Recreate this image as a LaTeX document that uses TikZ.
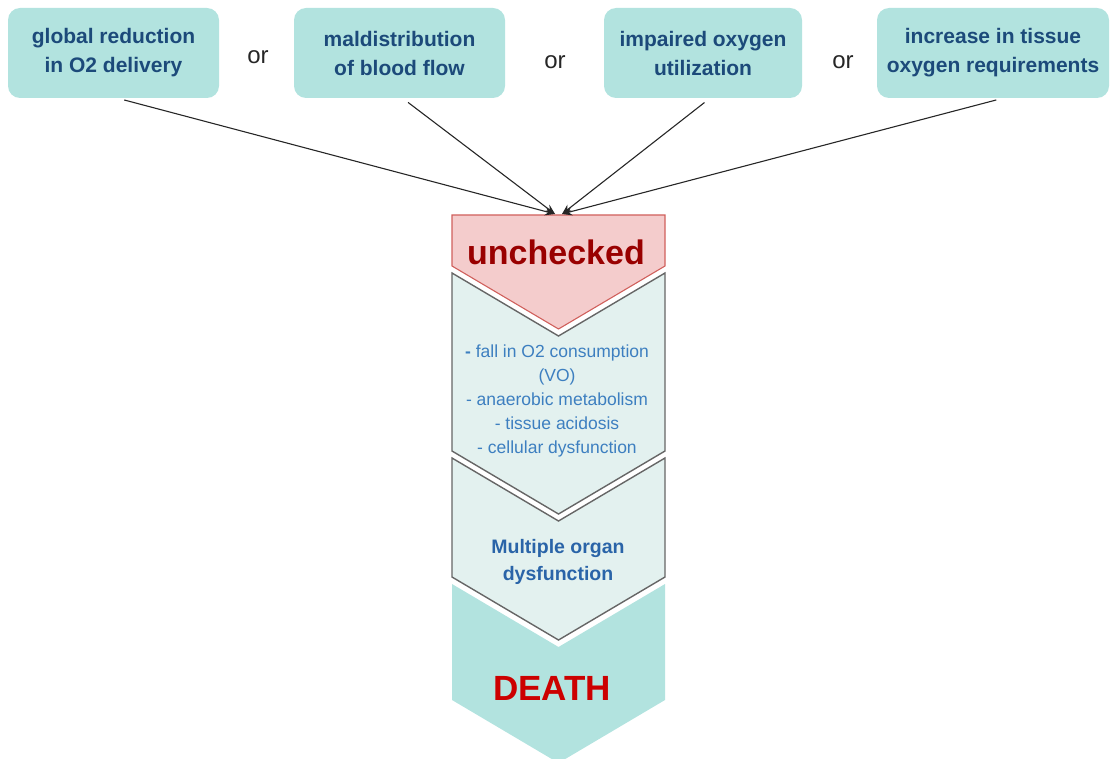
\documentclass[tikz,border=0pt]{standalone}
\usepackage{fontspec}
\setmainfont{Liberation Sans}
\usetikzlibrary{arrows.meta}

\definecolor{boxteal}{HTML}{B2E3DF}
\definecolor{palefill}{HTML}{E3F1EF}
\definecolor{pinkfill}{HTML}{F4CCCC}
\definecolor{redline}{HTML}{D0605C}
\definecolor{darkred}{HTML}{990000}
\definecolor{deathred}{HTML}{CC0000}
\definecolor{navytext}{HTML}{1C4A7A}
\definecolor{bluetext}{HTML}{3D7FC0}
\definecolor{midblue}{HTML}{2A64A8}

\tikzset{
  topbox/.style={rectangle, rounded corners=12pt, fill=boxteal, draw=none,
    minimum height=90pt, align=center, text=navytext,
    font=\fontsize{21}{29}\selectfont\bfseries},
  ortext/.style={font=\fontsize{24}{28}\selectfont, text=black!85},
  link/.style={-{Stealth[length=10pt,width=8pt]}, line width=1.1pt, black!85, shorten <=7pt},
  palechev/.style={fill=palefill, draw=black!60, line width=1.4pt, line join=miter},
}

\begin{document}
\begin{tikzpicture}[x=1pt, y=-1pt]
  \useasboundingbox (0,0) rectangle (1110,759);

  % causes
  \node[topbox, minimum width=211pt] (glob) at (113.5,53) {global reduction\\in O2 delivery};
  \node[topbox, minimum width=211pt] (mald) at (399.5,53) {maldistribution\\of blood flow};
  \node[topbox, minimum width=198pt] (impa) at (703,53) {impaired oxygen\\utilization};
  \node[topbox, minimum width=232pt] (incr) at (993,53) {increase in tissue\\oxygen requirements};

  \node[ortext] (or1) at (258,57) {or};
  \node[ortext] (or2) at (555,62) {or};
  \node[ortext] (or3) at (843,62) {or};

  % chevrons
  \draw[fill=pinkfill, draw=redline, line width=1.1pt]
    (452,215) -- (665,215) -- (665,266) -- (558.5,329) -- (452,266) -- cycle;
  \draw[palechev]
    (452,273) -- (558.5,336) -- (665,273) -- (665,451) -- (558.5,514) -- (452,451) -- cycle;
  \draw[palechev]
    (452,458) -- (558.5,521) -- (665,458) -- (665,577) -- (558.5,640) -- (452,577) -- cycle;
  \fill[boxteal]
    (452,584) -- (558.5,647) -- (665,584) -- (665,700) -- (558.5,763) -- (452,700) -- cycle;

  \node[text=darkred, font=\fontsize{34}{40}\selectfont\bfseries] (unch) at (556,252) {unchecked};
  \node[text=bluetext, align=center, font=\fontsize{17.5}{24}\selectfont] (effects) at (557,401)
    {\textbf{-} fall in O2 consumption\\(VO)\\- anaerobic metabolism\\- tissue acidosis\\- cellular dysfunction};
  \node[text=midblue, align=center, font=\fontsize{19.5}{27}\selectfont\bfseries] (mods) at (558,562)
    {Multiple organ\\dysfunction};
  \node[text=deathred, font=\fontsize{35}{40}\selectfont\bfseries] (death) at (552,688) {DEATH};

  % arrows into the first chevron
  \coordinate (inL) at (555,214);
  \coordinate (inR) at (562,214);
  \draw[link] ([xshift=4pt]glob.south) -- (inL);
  \draw[link] ([xshift=3pt]mald.south) -- (inL);
  \draw[link] ([xshift=7pt]impa.south) -- (inR);
  \draw[link] ([xshift=10pt]incr.south) -- (inR);
\end{tikzpicture}
\end{document}
